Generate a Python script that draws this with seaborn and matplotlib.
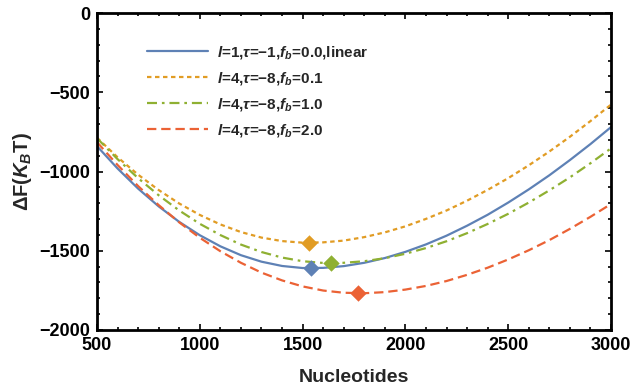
import matplotlib
matplotlib.use("Agg")
import matplotlib.pyplot as plt
import seaborn as sns
import pandas as pd
from matplotlib.ticker import MultipleLocator

# ---- data ----
nucleotides = [500, 600, 700, 800, 900, 1000, 1100, 1200, 1300, 1400, 1500, 1600, 1700,
               1800, 1900, 2000, 2100, 2200, 2300, 2400, 2500, 2600, 2700, 2800, 2900, 3000]
f_linear = [-840, -981, -1108, -1220, -1318, -1402, -1472, -1528, -1569, -1596, -1609, -1608, -1597,
            -1576, -1546, -1507, -1460, -1405, -1342, -1273, -1196, -1113, -1024, -928, -827, -720]
f_fb01 = [-787, -910, -1020, -1117, -1202, -1274, -1334, -1382, -1417, -1439, -1449, -1447, -1436,
          -1414, -1384, -1346, -1299, -1246, -1184, -1116, -1042, -961, -874, -781, -682, -578]
f_fb10 = [-790, -922, -1042, -1150, -1246, -1330, -1401, -1461, -1508, -1543, -1566, -1577, -1576,
          -1566, -1547, -1519, -1483, -1440, -1389, -1331, -1267, -1196, -1119, -1037, -948, -854]
f_fb20 = [-815, -959, -1092, -1212, -1321, -1418, -1503, -1576, -1638, -1687, -1725, -1751, -1765,
          -1768, -1761, -1745, -1722, -1691, -1652, -1607, -1555, -1497, -1433, -1362, -1286, -1205]
min_n = [1540, 1530, 1640, 1770]
min_f = [-1610, -1450, -1578, -1768]
labels = [r"$l$=1,$\tau$=−1,$f_b$=0.0,linear",
          r"$l$=4,$\tau$=−8,$f_b$=0.1",
          r"$l$=4,$\tau$=−8,$f_b$=1.0",
          r"$l$=4,$\tau$=−8,$f_b$=2.0"]
xticks = [500, 1000, 1500, 2000, 2500, 3000]
yticks = [-2000, -1500, -1000, -500, 0]

colors = ["#5E81B5", "#E19C24", "#8FB032", "#EB6235"]
styles = ["-", (0, (2.0, 1.6)), (0, (4.5, 2.2, 1.2, 2.2)), (0, (4.2, 2.2))]

sns.set_style("ticks")
plt.rcParams["font.family"] = ["Liberation Sans", "DejaVu Sans"]
plt.rcParams["font.weight"] = "bold"
plt.rcParams["mathtext.fontset"] = "custom"
plt.rcParams["mathtext.rm"] = "Liberation Sans:bold"
plt.rcParams["mathtext.bf"] = "Liberation Sans:bold"
plt.rcParams["mathtext.it"] = "Liberation Sans:italic:bold"
plt.rcParams["axes.unicode_minus"] = True

fig = plt.figure(figsize=(6.32, 3.92), dpi=100)
ax = fig.add_axes([97 / 632, 1 - 330 / 392, 514 / 632, 317 / 392])

series = [f_linear, f_fb01, f_fb10, f_fb20]
for vals, c, ls, lab in zip(series, colors, styles, labels):
    df = pd.DataFrame({"N": nucleotides, "F": vals})
    sns.lineplot(data=df, x="N", y="F", color=c, lw=1.6, linestyle=ls,
                 label=lab, ax=ax, zorder=2)

for n, f, c in zip(min_n, min_f, colors):
    sns.scatterplot(x=[n], y=[f], marker="D", s=70, color=c, linewidth=0,
                    ax=ax, zorder=3, legend=False)

ax.set_xlim(500, 3000)
ax.set_ylim(-2000, 0)
ax.set_xticks(xticks)
ax.set_yticks(yticks)
ax.xaxis.set_minor_locator(MultipleLocator(100))
ax.yaxis.set_minor_locator(MultipleLocator(100))
ax.tick_params(which="both", direction="in", top=True, right=True,
               labelsize=13, width=1.2, colors="black")
ax.tick_params(which="major", length=4, pad=5)
ax.tick_params(which="minor", length=2.2)
for lbl in ax.get_xticklabels() + ax.get_yticklabels():
    lbl.set_fontweight("bold")
for sp in ax.spines.values():
    sp.set_linewidth(2.0)
    sp.set_color("black")

ax.set_xlabel("Nucleotides", fontsize=14, fontweight="bold", labelpad=11)
ax.set_ylabel(r"ΔF($K_B$T)", fontsize=14.5, fontweight="bold", labelpad=4)

handles, labs = ax.get_legend_handles_labels()
ax.legend(handles, labs, loc="upper left", bbox_to_anchor=(0.097, 0.903),
          frameon=False, handlelength=4.0, handletextpad=0.6,
          labelspacing=0.6, borderpad=0, borderaxespad=0,
          prop={"weight": "bold", "size": 11})

fig.savefig("out.png", dpi=100)
